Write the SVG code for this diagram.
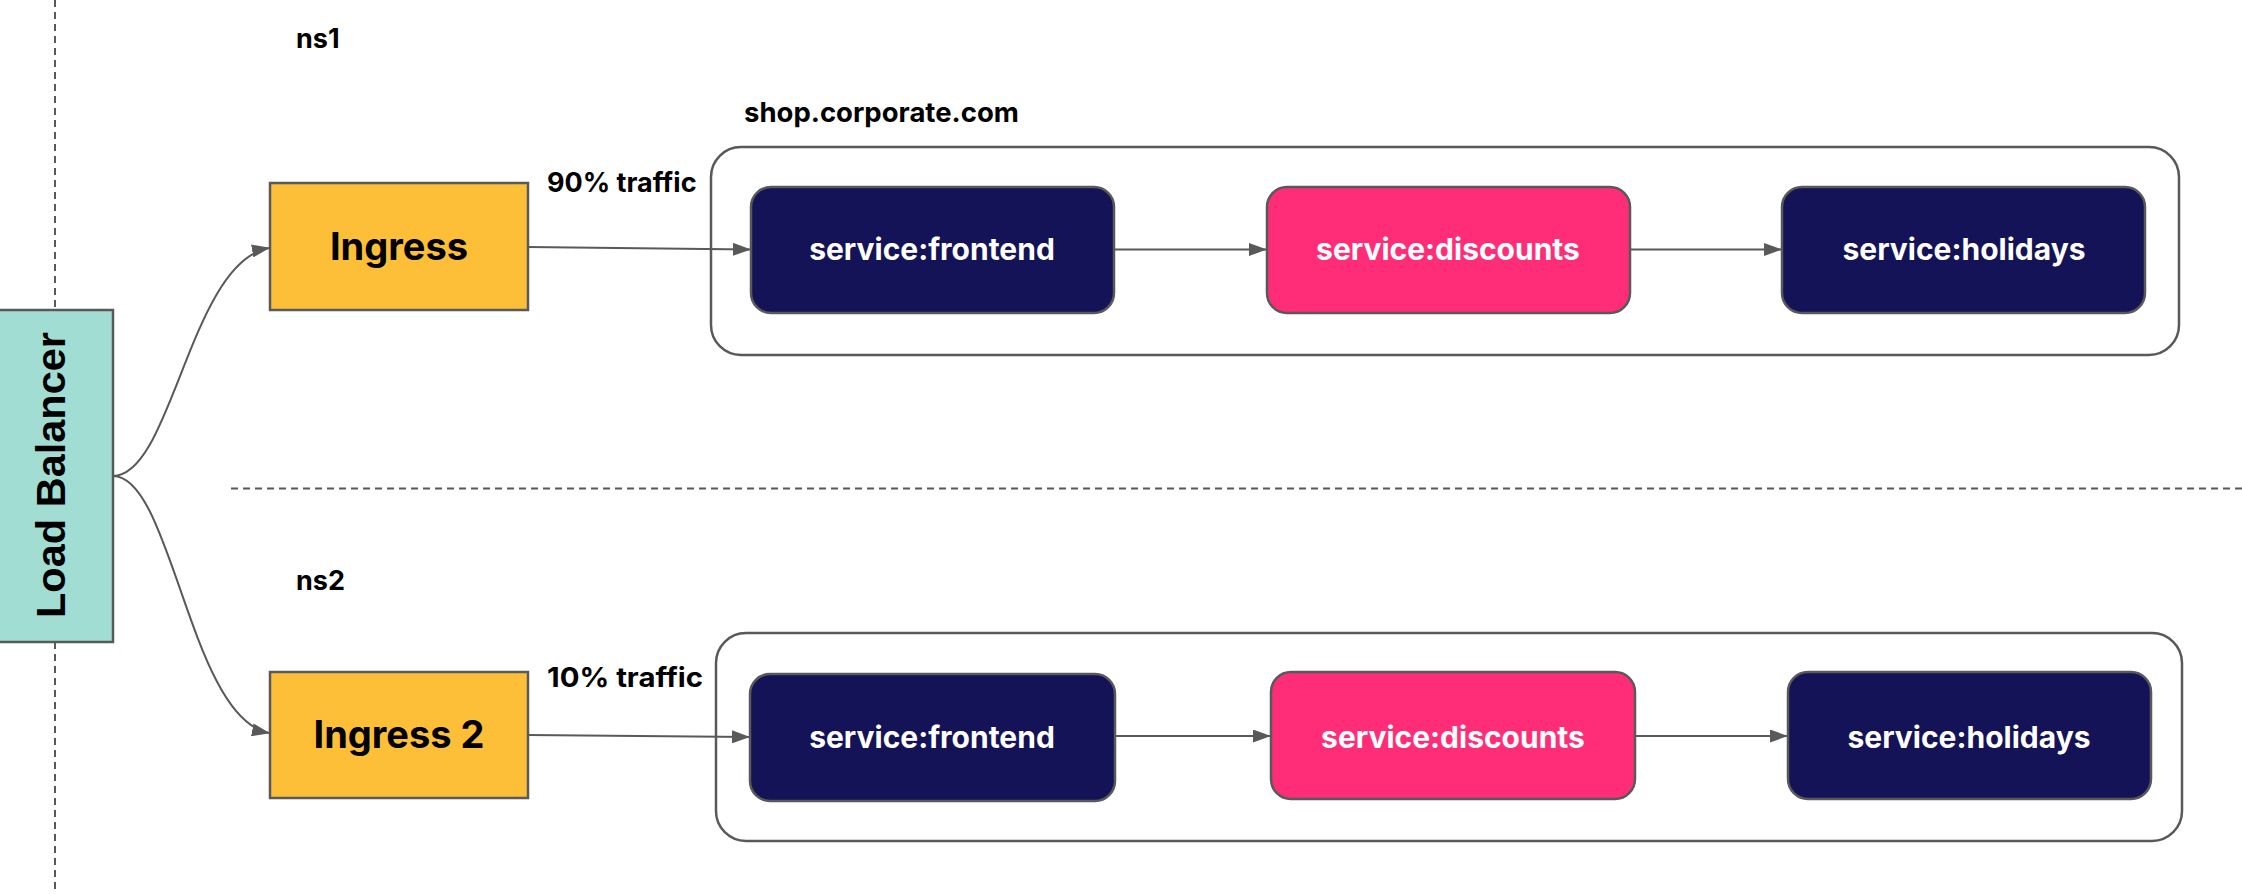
<svg xmlns="http://www.w3.org/2000/svg" width="2242" height="894" viewBox="0 0 2242 894">
<defs>
<style>
.lbl{font-family:Inter,"Noto Sans",sans-serif;font-weight:700;fill:#000}
.svc{font-family:Inter,"Noto Sans",sans-serif;font-weight:700;fill:#fff;font-size:30px;text-anchor:middle}
.ing{fill:#FDBF38;stroke:#595959;stroke-width:2.5}
.navy{fill:#151357;stroke:#595959;stroke-width:2.5}
.pink{fill:#FF2D78;stroke:#595959;stroke-width:2.5}
.cont{fill:none;stroke:#595959;stroke-width:2.5}
.dash{stroke:#595959;stroke-width:2;stroke-dasharray:7 5;fill:none}
.edge{stroke:#595959;stroke-width:2;fill:none;marker-end:url(#arr)}
</style>
<marker id="arr" markerUnits="userSpaceOnUse" markerWidth="18" markerHeight="13" refX="17" refY="6.5" orient="auto">
<path d="M0,0 L18,6.5 L0,13 z" fill="#595959"/>
</marker>
</defs>
<rect width="2242" height="894" fill="#fff"/>
<g id="separators">
<line class="dash" x1="55" y1="0" x2="55" y2="310"/>
<line class="dash" x1="55" y1="642" x2="55" y2="894"/>
<line class="dash" x1="231" y1="488.5" x2="2242" y2="488.5"/>
</g>
<g id="ns1-label"><text class="lbl" x="296" y="48" font-size="27">ns1</text></g>
<g id="ns2-label"><text class="lbl" x="296" y="590" font-size="27">ns2</text></g>
<g id="host-label"><text class="lbl" x="744" y="122" font-size="27.5">shop.corporate.com</text></g>
<g id="traffic90"><text class="lbl" x="547" y="192" font-size="27">90% traffic</text></g>
<g id="traffic10"><text class="lbl" x="547" y="687" font-size="27.5" textLength="156" lengthAdjust="spacingAndGlyphs">10% traffic</text></g>
<g id="container1"><rect class="cont" x="711" y="147" width="1468" height="208" rx="30"/></g>
<g id="container2"><rect class="cont" x="716" y="633" width="1466" height="208" rx="30"/></g>
<g id="load-balancer">
<rect x="-2" y="310" width="115" height="332" fill="#A1DDD3" stroke="#595959" stroke-width="2.5"/>
<text x="0" y="0" transform="translate(65,475) rotate(-90)" font-family="'Liberation Sans',Arial,sans-serif" font-weight="700" font-size="41.5" text-anchor="middle" fill="#000">Load Balancer</text>
</g>
<g id="ingress">
<rect class="ing" x="270" y="183" width="258" height="127"/>
<text class="lbl" x="399" y="260" font-size="38" text-anchor="middle">Ingress</text>
</g>
<g id="ingress2">
<rect class="ing" x="270" y="672" width="258" height="126"/>
<text class="lbl" x="399" y="748" font-size="38" text-anchor="middle">Ingress 2</text>
</g>
<g id="frontend1">
<rect class="navy" x="751" y="187" width="363" height="126" rx="20"/>
<text class="svc" x="932" y="260">service:frontend</text>
</g>
<g id="discounts1">
<rect class="pink" x="1267" y="187" width="363" height="126" rx="20"/>
<text class="svc" x="1448" y="260">service:discounts</text>
</g>
<g id="holidays1">
<rect class="navy" x="1782" y="187" width="363" height="126" rx="20"/>
<text class="svc" x="1964" y="260">service:holidays</text>
</g>
<g id="frontend2">
<rect class="navy" x="750" y="674" width="365" height="127" rx="20"/>
<text class="svc" x="932" y="748">service:frontend</text>
</g>
<g id="discounts2">
<rect class="pink" x="1271" y="672" width="364" height="127" rx="20"/>
<text class="svc" x="1453" y="748">service:discounts</text>
</g>
<g id="holidays2">
<rect class="navy" x="1788" y="672" width="363" height="127" rx="20"/>
<text class="svc" x="1969" y="748">service:holidays</text>
</g>
<g id="connectors">
<path class="edge" d="M113,476 C172,476 190,262 269,248"/>
<path class="edge" d="M113,476 C172,476 190,718 269,733"/>
<path class="edge" d="M528,247 L750,249.5"/>
<path class="edge" d="M1114,249.5 L1266,249.5"/>
<path class="edge" d="M1630,249.5 L1781,249.5"/>
<path class="edge" d="M528,735 L749,737"/>
<path class="edge" d="M1115,736 L1270,736"/>
<path class="edge" d="M1635,736 L1787,736"/>
</g>
</svg>
